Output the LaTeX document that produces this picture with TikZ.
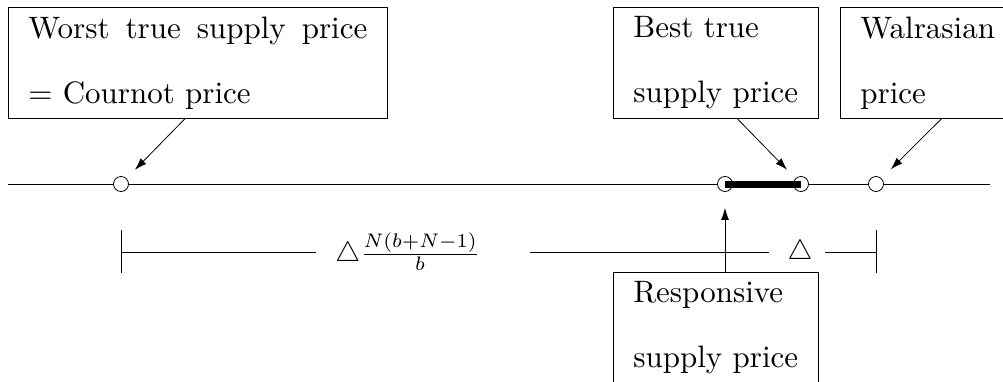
\documentclass[tikz,border=0pt]{standalone}
\usepackage{amsmath}
\usepackage{amssymb}
\usetikzlibrary{arrows.meta, positioning}
% scaled 10pt design size for the box texts
\DeclareFontShape{TU}{lmr}{m}{n}{<-> "[lmroman10-regular]:mapping=tex-text"}{}

\begin{document}
\begin{tikzpicture}[
    x=0.5pt, y=-0.5pt,
    pricebox/.style={rectangle, draw, anchor=north west, minimum height=55.5pt, inner xsep=10pt, text width=82.5pt, align=left, font=\fontsize{15.5}{19}\selectfont},
    pt/.style={circle, draw, fill=white, inner sep=0pt, minimum size=7.5pt},
    arr/.style={-{Latex[length=6pt, width=4pt]}},
    lab/.style={inner sep=0pt}
]
\useasboundingbox (0,0) rectangle (1003,381);
\clip (0,0) rectangle (1003,381);

% price boxes
\node[pricebox, text width=169.5pt] (worst) at (8,7)
    {\makebox[169.5pt]{Worst\hfill true\hfill supply\hfill price}\\[13.5pt]= Cournot price};
\node[pricebox] (bestbox)  at (613,7)   {Best true\\[13.5pt]supply price};
\node[pricebox] (walbox)   at (840,7)   {Walrasian\\[13.5pt]price};
\node[pricebox] (respbox)  at (613,272) {Responsive\\[13.5pt]supply price};

% price axis
\coordinate (axl) at (8,184);
\coordinate (axr) at (990,184);
\draw (axl) -- (axr);

\node[pt] (cournot) at (121,184) {};
\node[pt] (resp)    at (725,184) {};
\node[pt] (best)    at (801,184) {};
\node[pt] (walras)  at (876,184) {};

\draw[line width=3.5pt] (resp.center) -- (best.center);

\draw[arr, shorten >=6pt]   ([xshift=-6.5pt]worst.south) -- (cournot);
\draw[arr, shorten >=6pt]   ([xshift=10.75pt]bestbox.south) -- (best);
\draw[arr, shorten >=6.5pt] ([xshift=-0.75pt]walbox.south) -- (walras);
\draw[arr, shorten >=8pt]   (resp |- respbox.north) -- (resp);

% distance marks below
\coordinate (ltick) at (121,252);
\coordinate (rtick) at (876,252);
\node[lab, anchor=west] (gap) at (335,252) {\scalebox{1.4}{$\triangle\frac{N(b+N-1)}{b}$}};
\node[lab] (delta) at (800,252) {\scalebox{1.4}{$\triangle$}};

\draw ([yshift=11pt]ltick) -- ([yshift=-10.5pt]ltick);
\draw ([yshift=11pt]rtick) -- ([yshift=-10.5pt]rtick);
\draw (ltick) -- ([xshift=-9.5pt]gap.west);
\draw ([xshift=25pt]gap.east) -- ([xshift=-9pt]delta.west);
\draw ([xshift=6pt]delta.east) -- (rtick);
\end{tikzpicture}
\end{document}
